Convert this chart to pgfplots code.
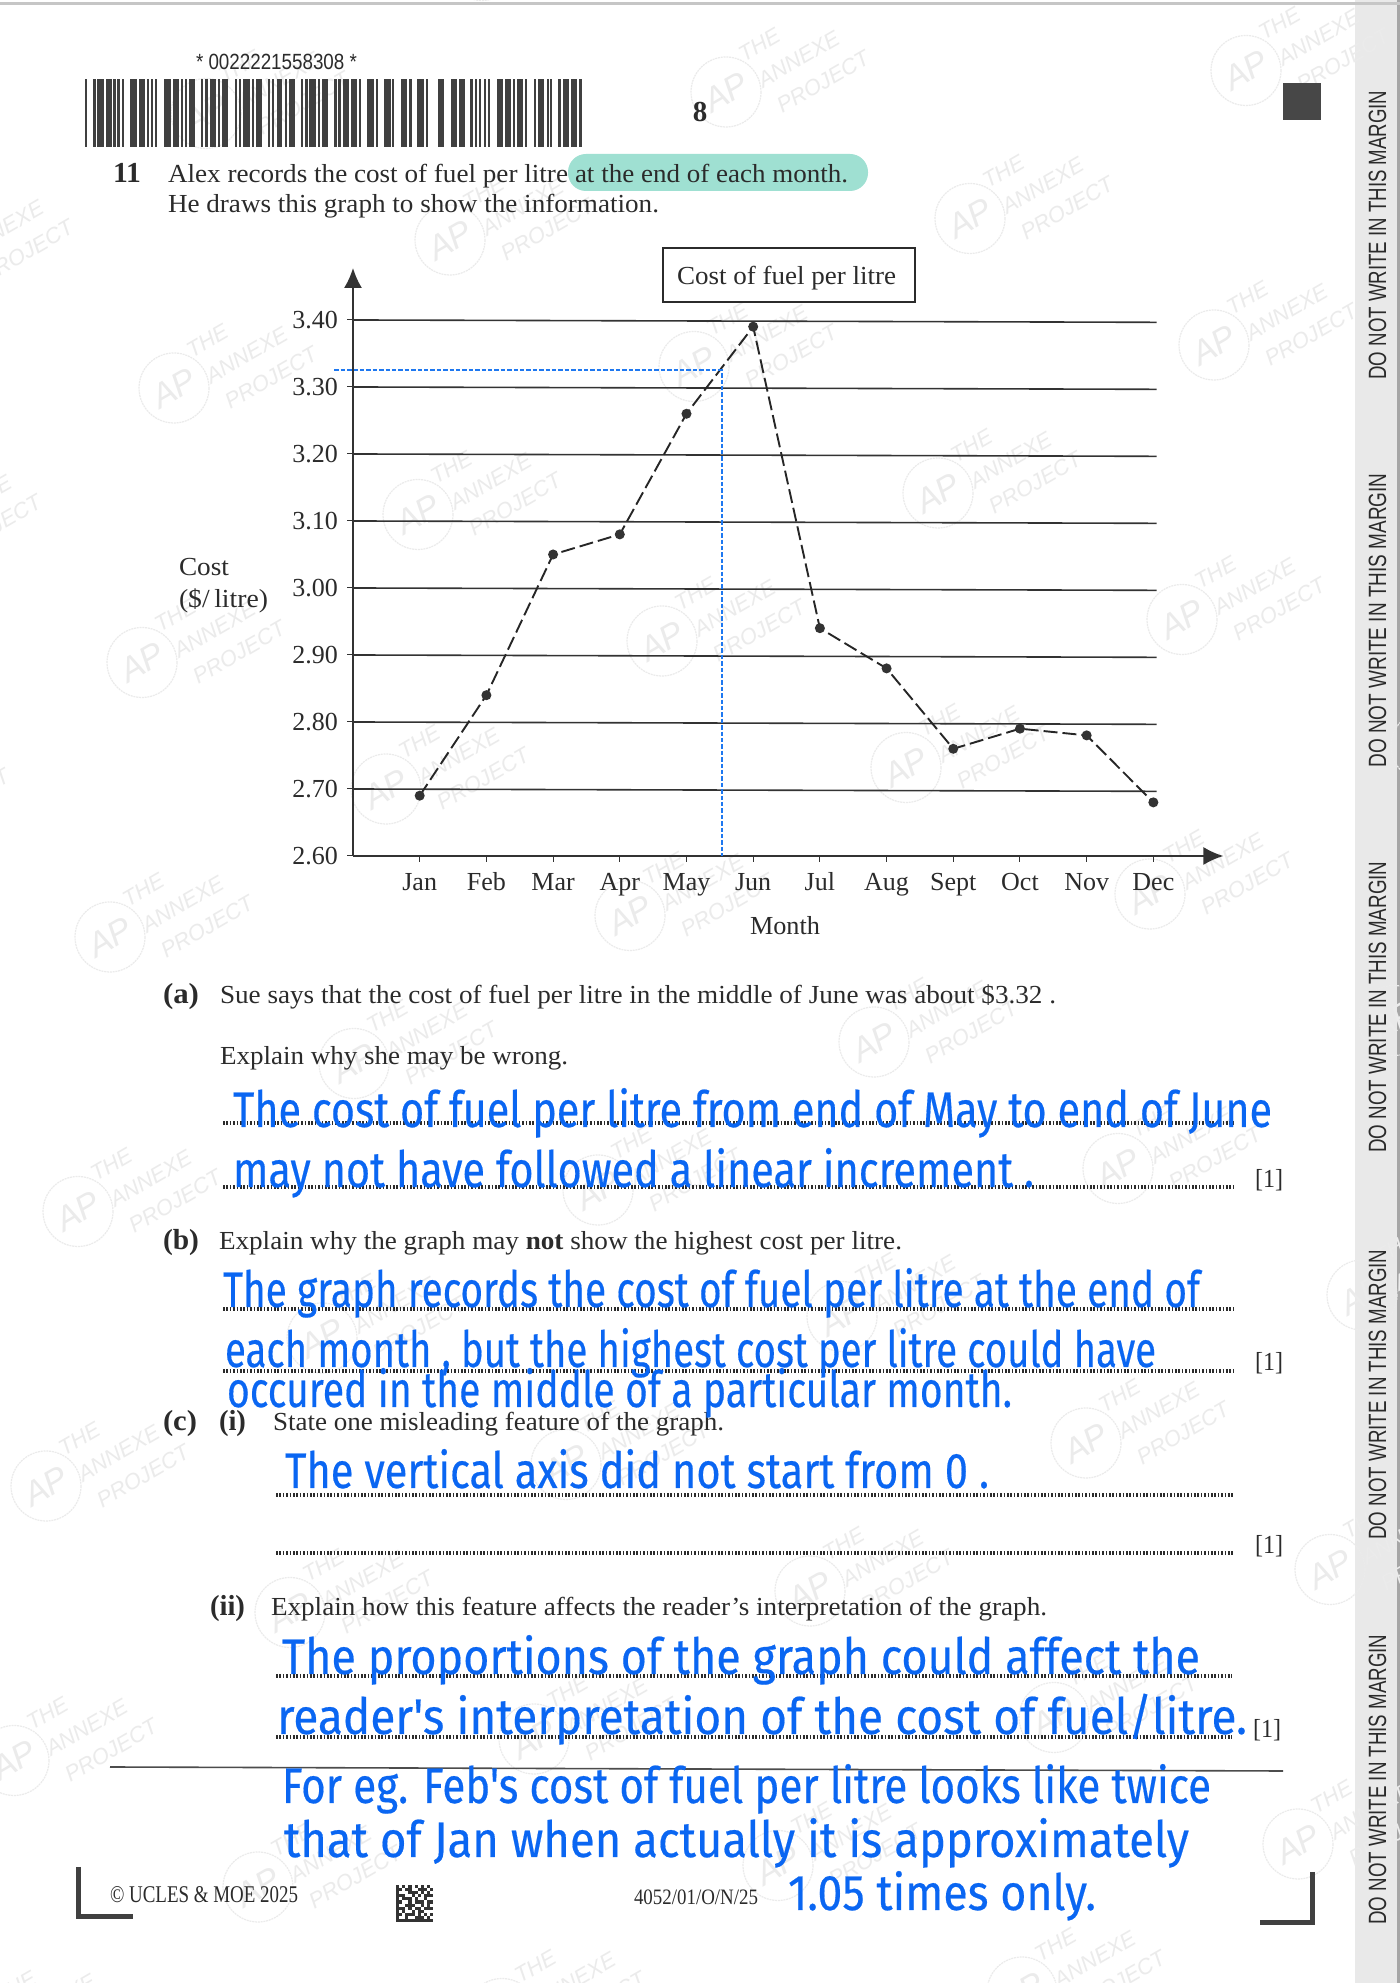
\documentclass[border=0pt]{standalone}
\usepackage{fontspec}
\usepackage{graphicx}
\usepackage{pgfplots}
\pgfplotsset{compat=1.18}
\usetikzlibrary{arrows.meta}
\setmainfont{Liberation Serif}
\setsansfont{Liberation Sans}
\newfontfamily\hand[FakeBold=0.4]{Fira Sans}
\definecolor{pr}{gray}{0.17}
\definecolor{inkblue}{HTML}{0A66F2}
\definecolor{dashblue}{HTML}{1E78F0}
\definecolor{wm}{gray}{0.92}
\definecolor{hl}{HTML}{9FE0D2}
\newcommand\body{\fontsize{13}{15}\selectfont\color{pr}}
\newcommand\labf{\fontsize{14.5}{16}\selectfont\bfseries\color{pr}}
\newcommand\handf{\fontsize{25}{28}\selectfont\hand\color{inkblue}}
% \TT{x left}{x right}{baseline y}{font}{text} in page pixels
\newcommand\TT[5]{\pgfmathsetmacro\mywd{(#2-#1)*0.5}%
  \node[anchor=base west,inner sep=0pt,outer sep=0pt] at (#1,#3) {\resizebox{\mywd pt}{\height}{#4 #5}};}
\newcommand\HW[4]{\TT{#1}{#2}{#3}{\handf}{#4}}
\newcommand\BT[4]{\TT{#1}{#2}{#3}{\body}{#4}}
\newcommand\margin[2]{\pgfmathsetmacro\mywd{(#1-#2)*0.5}%
  \node[anchor=base west,rotate=90,inner sep=0pt] at (1386,#1) {\resizebox{\mywd pt}{\height}{\fontsize{12.5}{14}\selectfont\sffamily\color{pr}DO NOT WRITE IN THIS MARGIN}};}
\newcommand\dotline[3]{\draw[pr,line width=1.6pt,dash pattern=on 0.8pt off 0.9pt] (#1,#3) -- (#2,#3);}
\begin{document}
\begin{tikzpicture}
\path[use as bounding box,fill=white] (0,0) rectangle (700pt,991.5pt);
\begin{scope}[x=0.5pt,y=-0.5pt,shift={(0pt,991.5pt)}]
  % margin strip and page edge
  \fill[gray!17] (1355,0) rectangle (1400,1983);
  \fill[gray!70] (1397,0) rectangle (1400,1983);
  \fill[gray!45] (0,2) rectangle (1400,5);
  % highlight
  \fill[hl,rounded corners=9pt] (568,154) rectangle (868,191);
  % watermarks
  \begin{scope}
    \clip (0,0) rectangle (1400,1983);
    \foreach \i in {-2,...,5}{
      \foreach \j in {-1,...,8}{
        \pgfmathsetmacro\cx{450+\i*276-\j*32}
        \pgfmathsetmacro\cy{240-\i*148+\j*274.5}
        \draw[wm,line width=0.6pt,dash pattern=on 1pt off 0.4pt] (\cx,\cy) circle (35);
        \node[wm,rotate=30,font=\sffamily\itshape\fontsize{17}{18}\selectfont] at (\cx,\cy) {AP};
        \node[wm,rotate=30,anchor=center,align=left,font=\sffamily\itshape\fontsize{11}{16}\selectfont] at (\cx+78,\cy-36) {THE\\\,ANNEXE\\\,\,PROJECT};
      }
    }
  \end{scope}
\end{scope}

\begin{axis}[
  at={(176.5pt,563.5pt)},anchor=south west,
  scale only axis,width=435.2pt,height=294pt,
  xmin=-1,xmax=12.05,ymin=2.6,ymax=3.4776,
  axis lines=left,clip=false,
  axis line style={draw=black!80,line width=0.9pt,-{Latex[length=10pt,width=9pt]}},
  xtick={0,1,2,3,4,5,6,7,8,9,10,11},
  xticklabels={Jan,Feb,Mar,Apr,May,Jun,Jul,Aug,Sept,Oct,Nov,Dec},
  ytick={2.6,2.7,2.8,2.9,3.0,3.1,3.2,3.3,3.4},
  tick align=outside,major tick length=3pt,
  tick style={draw=black!80,line width=0.5pt},
  typeset ticklabels with strut,
  xticklabel style={font=\body,yshift=-0.3pt},
  yticklabel style={font=\body,xshift=-1pt,yshift=-1.4pt},
  /pgf/number format/.cd,fixed,fixed zerofill,precision=2,assume math mode=true,
]
\addplot[black!80,line width=0.8pt,forget plot] coordinates {(-1,2.70) (11.05,2.6965)};
\addplot[black!80,line width=0.8pt,forget plot] coordinates {(-1,2.80) (11.05,2.7965)};
\addplot[black!80,line width=0.8pt,forget plot] coordinates {(-1,2.90) (11.05,2.8965)};
\addplot[black!80,line width=0.8pt,forget plot] coordinates {(-1,3.00) (11.05,2.9965)};
\addplot[black!80,line width=0.8pt,forget plot] coordinates {(-1,3.10) (11.05,3.0965)};
\addplot[black!80,line width=0.8pt,forget plot] coordinates {(-1,3.20) (11.05,3.1965)};
\addplot[black!80,line width=0.8pt,forget plot] coordinates {(-1,3.30) (11.05,3.2965)};
\addplot[black!80,line width=0.8pt,forget plot] coordinates {(-1,3.40) (11.05,3.3965)};
\addplot[black!85,line width=0.95pt,dash pattern=on 7pt off 2.5pt,
  mark=*,mark size=2pt,mark options={solid,fill=black!80,draw=black!80}]
  coordinates {(0,2.69) (1,2.84) (2,3.05) (3,3.08) (4,3.26) (5,3.39)
               (6,2.94) (7,2.88) (8,2.76) (9,2.79) (10,2.78) (11,2.68)};
\addplot[dashblue,line width=0.9pt,dash pattern=on 2.2pt off 1pt,forget plot]
  coordinates {(-1.28,3.325) (4.53,3.325) (4.53,2.60)};
\end{axis}

\begin{scope}[x=0.5pt,y=-0.5pt,shift={(0pt,991.5pt)}]
  % barcode
  \TT{196}{357}{70}{\fontsize{11}{13}\selectfont\sffamily\color{pr}}{* 0022221558308 *}
  \foreach \a/\b in {14/22,38/48,52/72,78/95,100/108,112/120,127/133,150/170,177/196,200/208,213/220,226/232,252/272,278/296,302/308,314/320,328/345,363/370,376/384,390/408,414/420,426/445,465/470,476/483,490/510,515/522,527/545,563/570,576/583,590/607,614/620,627/645,663/670,676/683,688/707,713/720,727/745}
    {\fill[black!75] (80+\a/3,79) rectangle (80+\b/3,147);}
  \foreach \a/\b in {12/20,25/32,38/58,62/82,87/93,112/132,137/145,162/182,187/193,212/232,238/245,262/282,288/293,323/343,362/382,387/405,421/428,435/441,448/454,461/467,473/480,500/518,524/543,550/556,562/580,586/592,612/618,624/643,650/656,661/667,685/692,698/718,723/742,748/755}
    {\fill[black!75] (330+\a/3,79) rectangle (330+\b/3,147);}
  \fill[black!72] (1283,83) rectangle (1321,120);
  % header text
  \node[anchor=base,inner sep=0pt,font=\labf] at (700,122) {8};
  \TT{113}{141}{183}{\labf}{11}
  \BT{168}{568}{183}{Alex records the cost of fuel per litre}
  \BT{575}{848}{183}{at the end of each month.}
  \BT{168}{659}{213}{He draws this graph to show the information.}
  % chart annotations
  \draw[pr,line width=0.7pt] (663,248) rectangle (915,302);
  \BT{677}{896}{285}{Cost of fuel per litre}
  \BT{179}{229}{576}{Cost}
  \BT{179}{268}{608}{(\$/\,litre)}
  \BT{750}{820}{935}{Month}
  % question a
  \TT{163}{199}{1004}{\labf}{(a)}
  \BT{220}{1056}{1004}{Sue says that the cost of fuel per litre in the middle of June was about \$3.32 .}
  \BT{220}{568}{1065}{Explain why she may be wrong.}
  \dotline{223}{1234}{1123}
  \dotline{223}{1234}{1187}
  \BT{1255}{1283}{1188}{[1]}
  \TT{163}{199}{1250}{\labf}{(b)}
  \BT{219}{902}{1250}{Explain why the graph may \textbf{not} show the highest cost per litre.}
  \dotline{223}{1234}{1309}
  \dotline{223}{1234}{1371}
  \BT{1255}{1283}{1371}{[1]}
  \TT{163}{197}{1431}{\labf}{(c)}
  \TT{219}{246}{1431}{\labf}{(i)}
  \BT{273}{724}{1431}{State one misleading feature of the graph.}
  \dotline{276}{1234}{1495}
  \dotline{276}{1234}{1553}
  \BT{1255}{1283}{1554}{[1]}
  \TT{210}{245}{1616}{\labf}{(ii)}
  \BT{271}{1047}{1616}{Explain how this feature affects the reader’s interpretation of the graph.}
  \dotline{276}{1232}{1676}
  \dotline{276}{1232}{1737}
  \BT{1253}{1281}{1738}{[1]}
  \draw[black!70,line width=0.8pt] (110,1767) -- (1283,1771);
  % crop marks
  \draw[black!75,line width=2.5pt] (78,1867) -- (78,1917) -- (133,1917);
  \draw[black!75,line width=2.5pt] (1312,1872) -- (1312,1923) -- (1260,1923);
  % footer
  \TT{110}{298}{1903}{\fontsize{12}{14}\selectfont\color{pr}}{© UCLES \& MOE 2025}
  \TT{634}{758}{1905}{\fontsize{11}{13}\selectfont\color{pr}}{4052/01/O/N/25}
  \foreach \r/\cols in {0/{0,2,4,6,8,10},1/{0,1,3,4,7,8,9,11},2/{0,4,5,6,8,10},3/{0,1,2,5,7,9,10,11},4/{0,2,3,4,6,9},5/{0,1,4,6,7,8,10,11},6/{0,3,4,5,8,10},7/{0,1,2,4,6,7,9,10,11},8/{0,2,5,7,8},9/{0,1,3,4,5,7,9,11},10/{0,3,6,7,8,10},11/{0,1,2,3,4,5,6,7,8,9,10,11}}{
    \foreach \c in \cols {
      \fill[black!80] (396+\c*3.1,1885+\r*3.1) rectangle ++(3.1,3.1);
    }
  }
  % margin text
  \margin{380}{91}
  \margin{768}{474}
  \margin{1153}{862}
  \margin{1540}{1250}
  \margin{1925}{1635}
  % handwriting
  \HW{233}{1272}{1127}{The cost of fuel per litre from end of May to end of June}
  \HW{233}{1034}{1187}{may not have followed a linear increment .}
  \HW{223}{1200}{1307}{The graph records the cost of fuel per litre at the end of}
  \HW{225}{1156}{1367}{each month , but the highest cost per litre could have}
  \HW{227}{1012}{1407}{occured in the middle of a particular month.}
  \HW{285}{989}{1488}{The vertical axis did not start from 0 .}
  \HW{282}{1200}{1674}{The proportions of the graph could affect the}
  \HW{277}{1247}{1734}{reader's interpretation of the cost of fuel/litre.}
  \HW{282}{1211}{1803}{For eg. Feb's cost of fuel per litre looks like twice}
  \HW{284}{1189}{1857}{that of Jan when actually it is approximately}
  \HW{788}{1096}{1910}{1.05 times only.}
\end{scope}
\end{tikzpicture}
\end{document}
